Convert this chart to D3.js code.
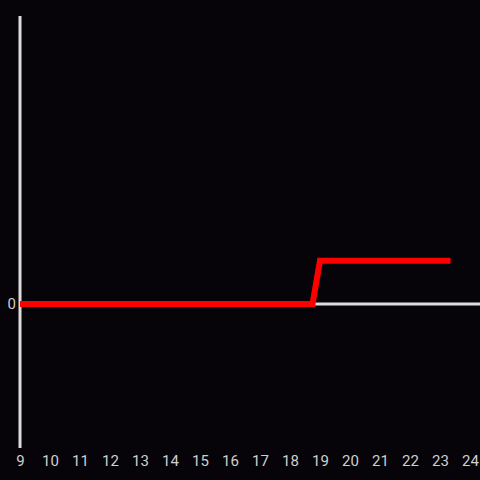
<!DOCTYPE html>
<meta charset="utf-8">
<script src="https://d3js.org/d3.v7.min.js"></script>
<style>
  body { margin: 0; background: #060409; }
  svg { display: block; }
</style>
<div id="chart"></div>
<script>
  // data
  var hours = [9, 18.75, 19, 23.35];
  var values = [0, 0, 0.3, 0.3];
  var xTicks = d3.range(9, 25);
  var yTicks = [0];

  var W = 480, H = 480;
  var margin = {top: 16, right: 10, bottom: 32, left: 20};

  var svg = d3.select("#chart")
    .append("svg")
      .attr("width", W)
      .attr("height", H);

  svg.append("rect")
    .attr("width", W).attr("height", H)
    .attr("fill", "#060409");

  var x = d3.scaleLinear()
    .domain([9, 24])
    .range([margin.left, W - margin.right]);

  var y = d3.scaleLinear()
    .domain([-1, 2])
    .range([H - margin.bottom, margin.top]);

  // y axis line
  svg.append("line")
    .attr("x1", x(9)).attr("x2", x(9))
    .attr("y1", margin.top).attr("y2", H - margin.bottom)
    .attr("stroke", "#dcdcdc")
    .attr("stroke-width", 3);

  // zero line runs to the right edge
  svg.append("line")
    .attr("x1", x(9)).attr("x2", W)
    .attr("y1", y(0)).attr("y2", y(0))
    .attr("stroke", "#dcdcdc")
    .attr("stroke-width", 3);

  // x tick labels
  var xAxis = svg.append("g")
    .attr("transform", "translate(0," + (H - margin.bottom) + ")")
    .call(d3.axisBottom(x).tickValues(xTicks).tickSize(0).tickPadding(7).tickFormat(d3.format("d")));
  xAxis.select(".domain").remove();

  // y tick labels
  var yAxis = svg.append("g")
    .attr("transform", "translate(" + x(9) + ",0)")
    .call(d3.axisLeft(y).tickValues(yTicks).tickSize(0).tickPadding(4).tickFormat(d3.format("d")));
  yAxis.select(".domain").remove();

  svg.selectAll(".tick text")
    .attr("fill", "#cfcfcf")
    .style("font-family", "Roboto, sans-serif")
    .style("font-size", "15px");

  // the red line
  var pts = hours.map(function(h, i) { return [h, values[i]]; });
  svg.append("path")
    .datum(pts)
    .attr("fill", "none")
    .attr("stroke", "#ff0000")
    .attr("stroke-width", 6)
    .attr("d", d3.line()
      .x(function(d) { return x(d[0]); })
      .y(function(d) { return y(d[1]); }));
</script>
